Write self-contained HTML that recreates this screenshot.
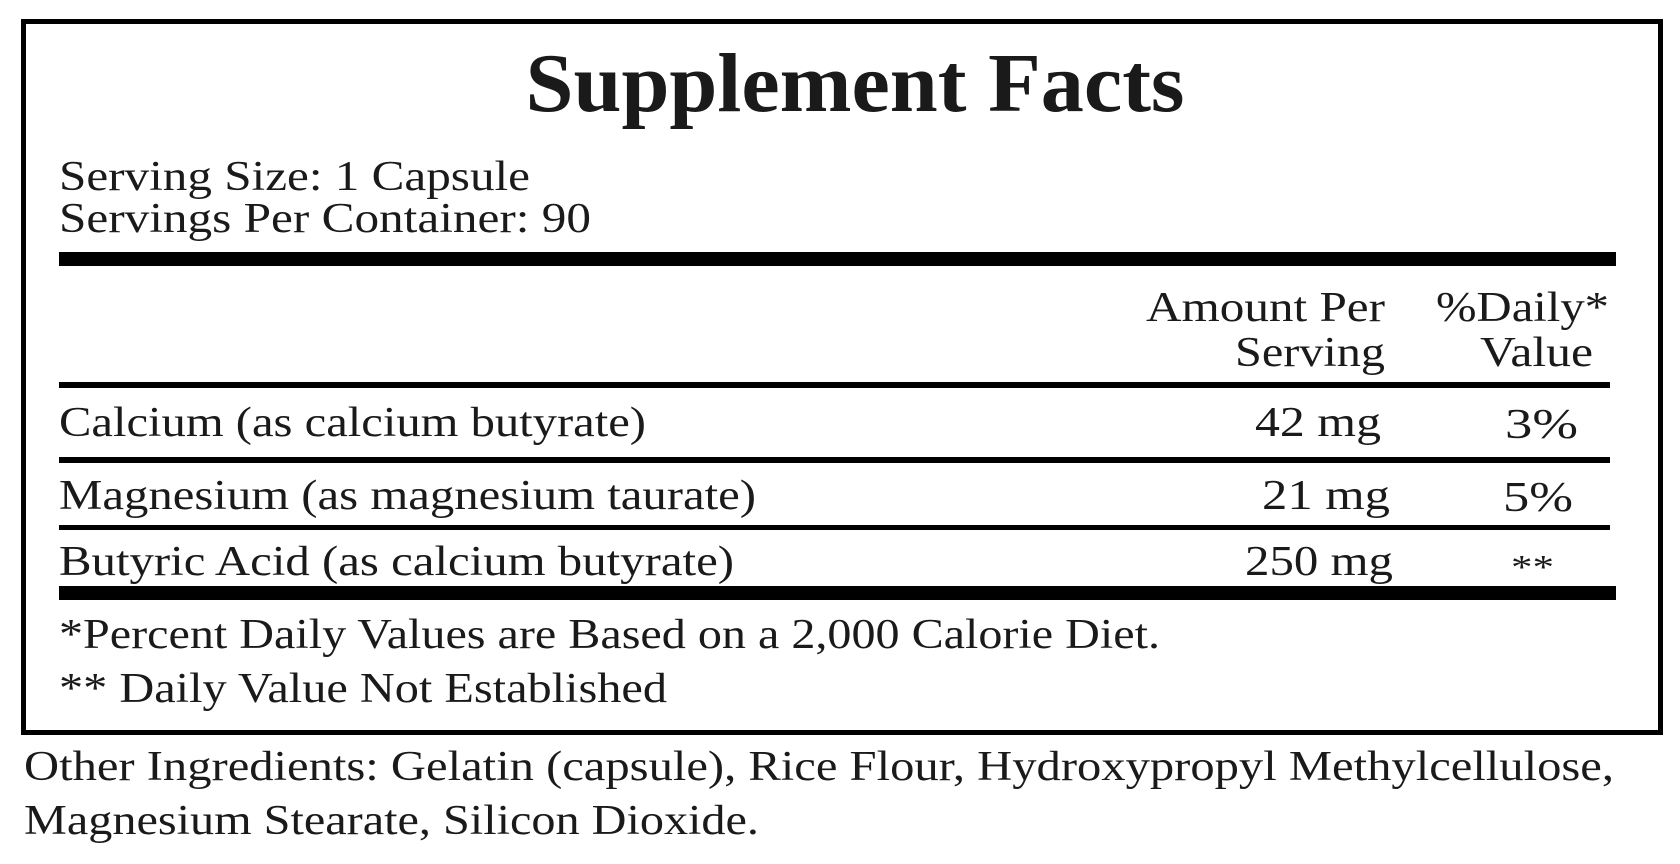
<!DOCTYPE html>
<html><head><meta charset="utf-8"><style>
html,body{margin:0;padding:0;background:#fff;}
svg{display:block;}
text{font-family:"Liberation Serif",serif;fill:#1a1a1a;}
</style></head><body>
<svg width="1680" height="864" viewBox="0 0 1680 864" xmlns="http://www.w3.org/2000/svg">
<rect x="23.5" y="21.5" width="1637" height="711" fill="none" stroke="#000" stroke-width="5"/>
<text x="855" y="111" text-anchor="middle" font-size="84" font-weight="bold" fill="#000" textLength="659" lengthAdjust="spacingAndGlyphs">Supplement Facts</text>
<text x="59" y="190" font-size="42" textLength="471" lengthAdjust="spacingAndGlyphs">Serving Size: 1 Capsule</text>
<text x="59" y="232" font-size="42" textLength="532" lengthAdjust="spacingAndGlyphs">Servings Per Container: 90</text>
<rect x="59" y="252" width="1557" height="14" fill="#000"/>
<text x="1385" y="321" text-anchor="end" font-size="42" textLength="239" lengthAdjust="spacingAndGlyphs">Amount Per</text>
<text x="1385" y="366" text-anchor="end" font-size="42" textLength="150" lengthAdjust="spacingAndGlyphs">Serving</text>
<text x="1436" y="321" font-size="42" textLength="173" lengthAdjust="spacingAndGlyphs">%Daily*</text>
<text x="1480" y="366" font-size="42" textLength="113" lengthAdjust="spacingAndGlyphs">Value</text>
<rect x="59" y="382" width="1551" height="6" fill="#000"/>
<text x="59" y="436" font-size="42" textLength="587" lengthAdjust="spacingAndGlyphs">Calcium (as calcium butyrate)</text>
<text x="1381" y="436" text-anchor="end" font-size="42" textLength="126" lengthAdjust="spacingAndGlyphs">42 mg</text>
<text x="1505" y="438" font-size="42" textLength="73" lengthAdjust="spacingAndGlyphs">3%</text>
<rect x="59" y="457" width="1551" height="6" fill="#000"/>
<text x="59" y="509" font-size="42" textLength="697" lengthAdjust="spacingAndGlyphs">Magnesium (as magnesium taurate)</text>
<text x="1390" y="509" text-anchor="end" font-size="42" textLength="128" lengthAdjust="spacingAndGlyphs">21 mg</text>
<text x="1503" y="511" font-size="42" textLength="70" lengthAdjust="spacingAndGlyphs">5%</text>
<rect x="59" y="525" width="1551" height="5" fill="#000"/>
<text x="59" y="575" font-size="42" textLength="675" lengthAdjust="spacingAndGlyphs">Butyric Acid (as calcium butyrate)</text>
<text x="1393" y="575" text-anchor="end" font-size="42" textLength="148" lengthAdjust="spacingAndGlyphs">250 mg</text>
<text x="1511" y="578" font-size="34" fill="#888" textLength="43" lengthAdjust="spacingAndGlyphs">**</text>
<rect x="59" y="586" width="1557" height="14" fill="#000"/>
<text x="59" y="648" font-size="42" textLength="1101" lengthAdjust="spacingAndGlyphs">*Percent Daily Values are Based on a 2,000 Calorie Diet.</text>
<text x="59" y="702" font-size="42" textLength="608" lengthAdjust="spacingAndGlyphs">** Daily Value Not Established</text>
<text x="24" y="780" font-size="42" textLength="1590" lengthAdjust="spacingAndGlyphs">Other Ingredients: Gelatin (capsule), Rice Flour, Hydroxypropyl Methylcellulose,</text>
<text x="24" y="834" font-size="42" textLength="735" lengthAdjust="spacingAndGlyphs">Magnesium Stearate, Silicon Dioxide.</text>
</svg>
</body></html>
